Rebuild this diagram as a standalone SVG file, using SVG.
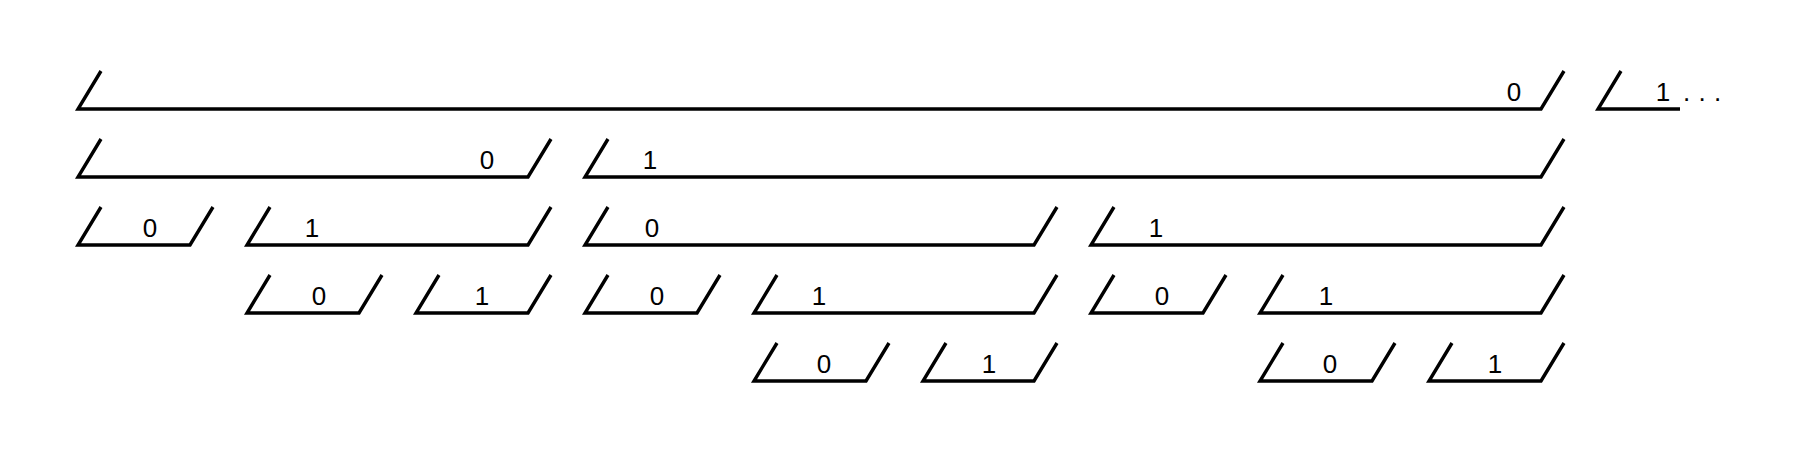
<svg xmlns="http://www.w3.org/2000/svg" width="1800" height="450" viewBox="0 0 1800 450">
<style>
.b{fill:none;stroke:#000;stroke-width:3.4;stroke-linejoin:miter;stroke-linecap:butt}
.t{font-family:"Liberation Sans",Arial,sans-serif;font-size:26px;fill:#000;text-anchor:middle}
.d{font-family:"Liberation Sans",Arial,sans-serif;font-size:26px;fill:#000;letter-spacing:0.5px}
</style>
<rect width="1800" height="450" fill="#fff"/>
<g id="r1a"><path class="b" d="M101,71 L78,109 L1541,109 L1564,71"/><text class="t" x="1514" y="101">0</text></g>
<g id="r1b"><path class="b" d="M1621,71 L1598,109 L1680,109"/><text class="t" x="1663" y="101">1</text><text class="d" x="1683" y="101">. . .</text></g>
<g id="r2a"><path class="b" d="M101,139 L78,177 L528,177 L551,139"/><text class="t" x="487" y="169">0</text></g>
<g id="r2b"><path class="b" d="M608,139 L585,177 L1541,177 L1564,139"/><text class="t" x="650" y="169">1</text></g>
<g id="r3a"><path class="b" d="M101,207 L78,245 L190,245 L213,207"/><text class="t" x="150" y="237">0</text></g>
<g id="r3b"><path class="b" d="M270,207 L247,245 L528,245 L551,207"/><text class="t" x="312" y="237">1</text></g>
<g id="r3c"><path class="b" d="M608,207 L585,245 L1034,245 L1057,207"/><text class="t" x="652" y="237">0</text></g>
<g id="r3d"><path class="b" d="M1114,207 L1091,245 L1541,245 L1564,207"/><text class="t" x="1156" y="237">1</text></g>
<g id="r4a"><path class="b" d="M270,275 L247,313 L359,313 L382,275"/><text class="t" x="319" y="305">0</text></g>
<g id="r4b"><path class="b" d="M439,275 L416,313 L528,313 L551,275"/><text class="t" x="482" y="305">1</text></g>
<g id="r4c"><path class="b" d="M608,275 L585,313 L697,313 L720,275"/><text class="t" x="657" y="305">0</text></g>
<g id="r4d"><path class="b" d="M777,275 L754,313 L1034,313 L1057,275"/><text class="t" x="819" y="305">1</text></g>
<g id="r4e"><path class="b" d="M1114,275 L1091,313 L1203,313 L1226,275"/><text class="t" x="1162" y="305">0</text></g>
<g id="r4f"><path class="b" d="M1283,275 L1260,313 L1541,313 L1564,275"/><text class="t" x="1326" y="305">1</text></g>
<g id="r5a"><path class="b" d="M777,343 L754,381 L866,381 L889,343"/><text class="t" x="824" y="373">0</text></g>
<g id="r5b"><path class="b" d="M946,343 L923,381 L1034,381 L1057,343"/><text class="t" x="989" y="373">1</text></g>
<g id="r5c"><path class="b" d="M1283,343 L1260,381 L1372,381 L1395,343"/><text class="t" x="1330" y="373">0</text></g>
<g id="r5d"><path class="b" d="M1452,343 L1429,381 L1541,381 L1564,343"/><text class="t" x="1495" y="373">1</text></g>
</svg>
